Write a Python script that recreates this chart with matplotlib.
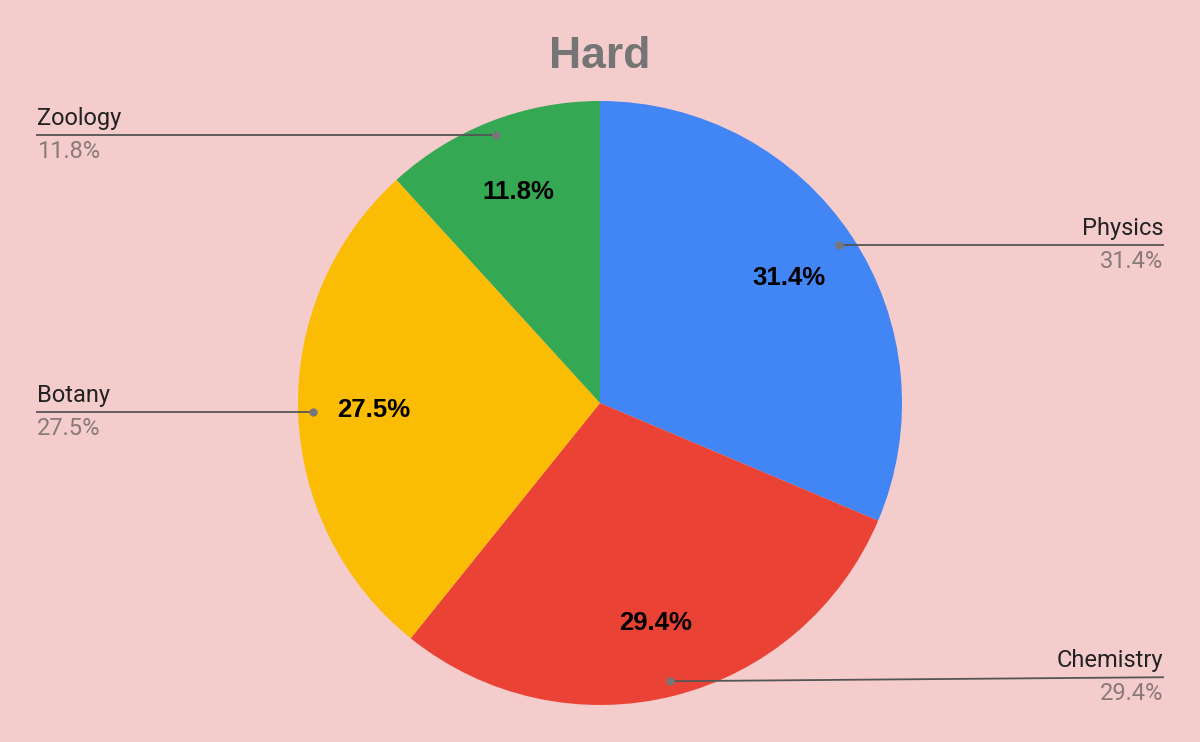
import numpy as np
import matplotlib.pyplot as plt
from matplotlib import font_manager

labels = ['Physics', 'Chemistry', 'Botany', 'Zoology']
values = [16, 15, 14, 6]
colors = ['#4285F4', '#EA4335', '#FBBC04', '#34A853']
bg = '#F4CCCC'

installed = {f.name for f in font_manager.fontManager.ttflist}
arial_name = next((n for n in ['Liberation Sans', 'Arimo', 'Arial', 'Roboto'] if n in installed), 'DejaVu Sans')
arial = [arial_name, 'DejaVu Sans']
roboto = ['Roboto', 'DejaVu Sans']
plt.rcParams['font.family'] = arial

W, H = 1200, 742
fig = plt.figure(figsize=(12, 7.42), dpi=100, facecolor=bg)
ax = fig.add_axes([0, 0, 1, 1])
ax.set_facecolor(bg)

cx, cy, r = 600, H - 403, 302
wedges, _, autotexts = ax.pie(values, colors=colors, startangle=90, counterclock=False,
                              center=(cx, cy), radius=r, autopct='%1.1f%%', pctdistance=0.75,
                              textprops=dict(fontsize=18.5, fontweight='bold', color='black',
                                             family=arial),
                              frame=True)
ax.set_xlim(0, W)
ax.set_ylim(0, H)
ax.axis('off')

# outside labels with leader lines
left_x, right_x = 37, 1163
total = sum(values)
for w, lab, v in zip(wedges, labels, values):
    ang = np.deg2rad((w.theta1 + w.theta2) / 2)
    px = cx + 0.95 * r * np.cos(ang)
    py = cy + 0.95 * r * np.sin(ang)
    if px > cx:
        ex, ha = right_x, 'right'
    else:
        ex, ha = left_x, 'left'
    ey = py
    if lab == 'Chemistry':
        ey = py + 4
    ax.plot([px, ex], [py, ey], color='#555555', lw=1.3, zorder=3)
    ax.plot(px, py, 'o', color='#777777', ms=5, zorder=4)
    ax.text(ex, ey + 5, lab, ha=ha, va='bottom', fontsize=17, color='#222222', family=roboto)
    ax.text(ex, ey - 5, f'{100 * v / total:.1f}%', ha=ha, va='top', fontsize=17,
            color='#8a7a7a', family=roboto)

ax.text(600, H - 56, 'Hard', ha='center', va='center', fontsize=32, fontweight='heavy',
        color='#757575', family=arial)

fig.savefig('out.png', dpi=100, facecolor=bg)
